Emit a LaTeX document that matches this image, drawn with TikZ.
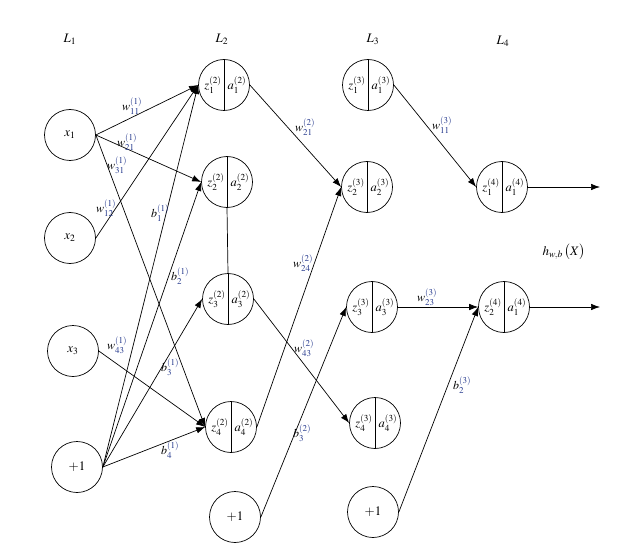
\documentclass[tikz,border=0pt]{standalone}
\usepackage{mathptmx}
\usetikzlibrary{arrows.meta}
\definecolor{lblc}{RGB}{35,55,140}
\newcommand{\wl}[3]{$#1^{\textcolor{lblc}{(#2)}}_{\textcolor{lblc}{#3}}$}
\newcommand{\mkneuron}[6]{%
  \node[neuron] (#1) at (#2,#3) {};
  \draw[thin line] (#1.north) -- (#1.south);
  \node[ntext] at ([xshift=-11pt]#1.center) {$z^{(#4)}_{#5}$};
  \node[ntext] at ([xshift=13pt]#1.center) {$a^{(#4)}_{#6}$};
}
\begin{document}
\begin{tikzpicture}[x=1pt,y=-1pt,
  thin line/.style={line width=0.7pt},
  neuron/.style={circle,draw,line width=0.7pt,minimum size=51pt,inner sep=0pt},
  inode/.style={circle,draw,line width=0.7pt,minimum size=51pt,inner sep=0pt,font=\fontsize{13}{15}\selectfont},
  ntext/.style={inner sep=0pt,font=\fontsize{12.5}{14}\selectfont},
  lbl/.style={inner sep=0pt,font=\fontsize{12}{14}\selectfont},
  layer/.style={inner sep=0pt,font=\fontsize{13}{15}\selectfont},
  edge/.style={line width=0.7pt,-{Latex[length=9pt,width=6.5pt]}},
  plain/.style={line width=0.7pt}]
\useasboundingbox (0,0) rectangle (628,545);

% layer titles
\node[layer] (t1) at (70,39) {$L_1$};
\node[layer] (t2) at (222,39) {$L_2$};
\node[layer] (t3) at (373,39) {$L_3$};
\node[layer] (t4) at (503,41) {$L_4$};

% layer 1
\node[inode] (x1) at (70,135) {$x_1$};
\node[inode] (x2) at (70,238) {$x_2$};
\node[inode] (x3) at (73,351) {$x_3$};
\node[inode] (p1) at (77,467) {$+1$};

% layer 2
\mkneuron{b1}{224}{85}{2}{1}{1}
\mkneuron{b2}{227}{182}{2}{2}{2}
\mkneuron{b3}{228}{299}{2}{3}{3}
\mkneuron{b4}{231}{427}{2}{4}{4}
\node[inode] (bp) at (235,517) {$+1$};

% layer 3
\mkneuron{c1}{368}{85}{3}{1}{1}
\mkneuron{c2}{367}{187}{3}{2}{2}
\mkneuron{c3}{372}{307}{3}{3}{3}
\mkneuron{c4}{375}{423}{3}{4}{4}
\node[inode] (cp) at (373,512) {$+1$};

% layer 4
\mkneuron{d1}{502}{187}{4}{1}{1}
\mkneuron{d2}{504}{307}{4}{2}{1}

\coordinate (o1) at (600,187);
\coordinate (o2) at (600,307);

% link inside layer 2
\draw[plain] (b2.south) -- (b3.north);

% layer 1 -> layer 2
\draw[edge] (x1.east) -- (b1.west);
\draw[edge] (x1.east) -- (b2.west);
\draw[edge] (x1.east) -- (b4.west);
\draw[edge] (x2.east) -- (b1.west);
\draw[edge] (x3.east) -- (b4.west);
\draw[edge] (p1.east) -- (b1.west);
\draw[edge] (p1.east) -- (b2.west);
\draw[edge] (p1.east) -- (b3.west);
\draw[edge] (p1.east) -- (b4.west);

% layer 2 -> layer 3
\draw[edge] (b1.east) -- (c2.west);
\draw[edge] (b4.east) -- (c2.west);
\draw[edge] (b3.east) -- (c4.west);
\draw[edge] (bp.east) -- (c3.west);

% layer 3 -> layer 4
\draw[edge] (c1.east) -- (d1.west);
\draw[edge] (c3.east) -- (d2.west);
\draw[edge] (cp.east) -- (d2.west);

% outputs
\draw[edge] (d1.east) -- (o1);
\draw[edge] (d2.east) -- (o2);

% edge labels
\node[lbl] (l1) at (132,106) {\wl{w}{1}{11}};
\node[lbl] (l2) at (127,142) {\wl{w}{1}{21}};
\node[lbl] (l3) at (117,165) {\wl{w}{1}{31}};
\node[lbl] (l4) at (106,208) {\wl{w}{1}{12}};
\node[lbl] (l5) at (160,213) {\wl{b}{1}{1}};
\node[lbl] (l6) at (180,276) {\wl{b}{1}{2}};
\node[lbl] (l7) at (117,345) {\wl{w}{1}{43}};
\node[lbl] (l8) at (170,367) {\wl{b}{1}{3}};
\node[lbl] (l9) at (170,450) {\wl{b}{1}{4}};
\node[lbl] (l10) at (305,127) {\wl{w}{2}{21}};
\node[lbl] (l11) at (303,263) {\wl{w}{2}{24}};
\node[lbl] (l12) at (304,348) {\wl{w}{2}{43}};
\node[lbl] (l13) at (302,433) {\wl{b}{2}{3}};
\node[lbl] (l14) at (442,125) {\wl{w}{3}{11}};
\node[lbl] (l15) at (427,297) {\wl{w}{3}{23}};
\node[lbl] (l16) at (462,385) {\wl{b}{3}{2}};
\node[layer] (h) at (564,252) {$h_{w,b}\,\bigl(X\bigr)$};
\end{tikzpicture}
\end{document}
